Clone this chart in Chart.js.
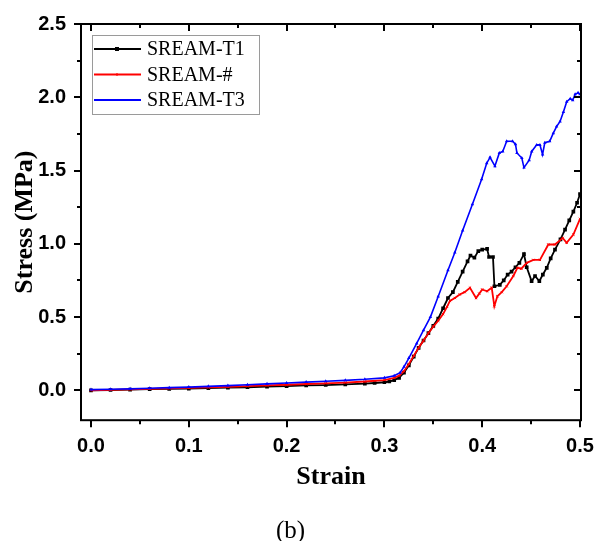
<!DOCTYPE html>
<html><head><meta charset="utf-8">
<script src="https://cdn.jsdelivr.net/npm/chart.js@4/dist/chart.umd.min.js"></script>
<style>html,body{margin:0;padding:0;background:#fff;}canvas{display:block;}</style>
</head><body>
<canvas id="c" width="598" height="541"></canvas>
<script>
const seriesNames = ['SREAM-T1', 'SREAM-#', 'SREAM-T3'];
const seriesColors = ['#000000', '#ff0000', '#0000ff'];

const t1Strain = [0, 0.02, 0.04, 0.06, 0.08, 0.10, 0.12, 0.14, 0.16, 0.18, 0.20, 0.22, 0.24, 0.26, 0.28, 0.29, 0.30, 0.305, 0.31, 0.315, 0.32, 0.325, 0.33, 0.335, 0.34, 0.345, 0.35, 0.355, 0.36, 0.365, 0.37, 0.375, 0.38, 0.385, 0.388, 0.392, 0.396, 0.40, 0.405, 0.407, 0.411, 0.4125, 0.418, 0.422, 0.426, 0.43, 0.434, 0.438, 0.4427, 0.4455, 0.4505, 0.454, 0.4584, 0.462, 0.466, 0.47, 0.4744, 0.48, 0.4847, 0.489, 0.4932, 0.497, 0.50];
const t1Stress = [0, 0.002, 0.005, 0.008, 0.010, 0.012, 0.015, 0.018, 0.021, 0.025, 0.029, 0.033, 0.036, 0.040, 0.045, 0.050, 0.055, 0.060, 0.070, 0.085, 0.12, 0.17, 0.23, 0.29, 0.34, 0.39, 0.44, 0.49, 0.56, 0.63, 0.67, 0.74, 0.81, 0.88, 0.92, 0.905, 0.95, 0.96, 0.965, 0.91, 0.91, 0.71, 0.72, 0.75, 0.79, 0.81, 0.84, 0.87, 0.93, 0.84, 0.745, 0.78, 0.745, 0.79, 0.836, 0.90, 0.96, 1.03, 1.097, 1.16, 1.22, 1.28, 1.34];

const hashStrain = [0, 0.02, 0.04, 0.06, 0.08, 0.10, 0.12, 0.14, 0.16, 0.18, 0.20, 0.22, 0.24, 0.26, 0.28, 0.30, 0.31, 0.315, 0.32, 0.325, 0.33, 0.335, 0.34, 0.345, 0.35, 0.355, 0.36, 0.364, 0.367, 0.372, 0.377, 0.382, 0.3875, 0.3937, 0.397, 0.40, 0.405, 0.4097, 0.4124, 0.4155, 0.42, 0.425, 0.4318, 0.436, 0.44, 0.4455, 0.4523, 0.459, 0.4676, 0.4744, 0.4823, 0.4863, 0.4932, 0.50];
const hashStress = [0, 0.003, 0.006, 0.010, 0.013, 0.016, 0.020, 0.024, 0.028, 0.033, 0.038, 0.043, 0.048, 0.053, 0.060, 0.070, 0.085, 0.10, 0.13, 0.18, 0.235, 0.29, 0.34, 0.39, 0.435, 0.475, 0.52, 0.57, 0.61, 0.63, 0.654, 0.67, 0.70, 0.63, 0.66, 0.688, 0.676, 0.70, 0.574, 0.642, 0.67, 0.71, 0.78, 0.836, 0.83, 0.87, 0.89, 0.89, 0.995, 0.995, 1.04, 1.006, 1.063, 1.17];

const t3Strain = [0, 0.02, 0.04, 0.06, 0.08, 0.10, 0.12, 0.14, 0.16, 0.18, 0.20, 0.22, 0.24, 0.26, 0.28, 0.30, 0.31, 0.316, 0.32, 0.325, 0.333, 0.34, 0.347, 0.355, 0.365, 0.372, 0.38, 0.39, 0.3994, 0.4046, 0.408, 0.413, 0.4175, 0.421, 0.425, 0.431, 0.434, 0.4355, 0.4405, 0.4427, 0.448, 0.4506, 0.4557, 0.459, 0.4617, 0.464, 0.469, 0.4727, 0.476, 0.4796, 0.483, 0.4864, 0.49, 0.4925, 0.495, 0.498, 0.50];
const t3Stress = [0.005, 0.007, 0.010, 0.014, 0.018, 0.022, 0.027, 0.032, 0.038, 0.044, 0.050, 0.056, 0.062, 0.068, 0.075, 0.085, 0.10, 0.12, 0.16, 0.22, 0.32, 0.41, 0.50, 0.64, 0.82, 0.94, 1.09, 1.27, 1.44, 1.55, 1.59, 1.53, 1.62, 1.63, 1.70, 1.70, 1.68, 1.62, 1.585, 1.52, 1.57, 1.63, 1.675, 1.675, 1.61, 1.69, 1.70, 1.755, 1.80, 1.835, 1.90, 1.97, 1.99, 1.98, 2.02, 2.03, 2.02];

const xMajorTicks = [0, 0.1, 0.2, 0.3, 0.4, 0.5];
const xMinorTicks = [0.05, 0.15, 0.25, 0.35, 0.45];
const yMajorTicks = [0, 0.5, 1.0, 1.5, 2.0, 2.5];
const yMinorTicks = [0.25, 0.75, 1.25, 1.75, 2.25];

const xTitle = 'Strain';
const yTitle = 'Stress (MPa)';
const caption = '(b)';

const toXY = (xs, ys) => xs.map((v, i) => ({x: v, y: ys[i]}));

const framePlugin = {
  id: 'frameTicks',
  afterDatasetsDraw(chart) {
    const {ctx, chartArea: a, scales: {x, y}} = chart;
    ctx.save();
    ctx.strokeStyle = '#000';
    ctx.lineWidth = 2;
    ctx.strokeRect(a.left, a.top, a.right - a.left, a.bottom - a.top);
    ctx.beginPath();
    const xt = (vals, len) => vals.forEach(v => {
      const p = Math.round(x.getPixelForValue(v));
      ctx.moveTo(p, a.bottom); ctx.lineTo(p, a.bottom + len);
      ctx.moveTo(p, a.top); ctx.lineTo(p, a.top + len);
    });
    const yt = (vals, len) => vals.forEach(v => {
      const p = Math.round(y.getPixelForValue(v));
      ctx.moveTo(a.left, p); ctx.lineTo(a.left - len, p);
      ctx.moveTo(a.right, p); ctx.lineTo(a.right - len, p);
    });
    xt(xMajorTicks, 7); xt(xMinorTicks, 4);
    yt(yMajorTicks, 7); yt(yMinorTicks, 4);
    ctx.stroke();
    ctx.restore();
  }
};

const legendPlugin = {
  id: 'boxLegend',
  afterDraw(chart) {
    const ctx = chart.ctx;
    const bx = 92, by = 35, bw = 167, bh = 79;
    ctx.save();
    ctx.strokeStyle = '#9a9a9a';
    ctx.lineWidth = 1;
    ctx.strokeRect(bx + 0.5, by + 0.5, bw, bh);
    chart.data.datasets.forEach((ds, i) => {
      const yy = 49 + i * 25.5;
      ctx.strokeStyle = ds.borderColor;
      ctx.lineWidth = 2;
      ctx.beginPath();
      ctx.moveTo(94, yy); ctx.lineTo(141, yy);
      ctx.stroke();
      ctx.fillStyle = ds.borderColor;
      if (i === 0) ctx.fillRect(115, yy - 2, 4, 4);
      else ctx.fillRect(116, yy - 1, 2, 2);
      ctx.fillStyle = '#000';
      ctx.font = '20px "Liberation Serif", "Times New Roman", serif';
      ctx.textBaseline = 'middle';
      ctx.textAlign = 'left';
      ctx.fillText(ds.label, 147, yy + 1);
    });
    ctx.restore();
  }
};

const tickFont = {family: '"Liberation Sans", Arial, sans-serif', size: 20, weight: 'bold'};
const titleFont = {family: '"Liberation Serif", "Times New Roman", serif', size: 26, weight: 'bold'};

new Chart(document.getElementById('c'), {
  type: 'scatter',
  data: {
    datasets: [
      {label: seriesNames[0], data: toXY(t1Strain, t1Stress), borderColor: seriesColors[0], backgroundColor: seriesColors[0],
       showLine: true, borderWidth: 1.8, pointStyle: 'rect', pointRadius: 2.6, pointBorderWidth: 0, order: 2},
      {label: seriesNames[1], data: toXY(hashStrain, hashStress), borderColor: seriesColors[1], backgroundColor: seriesColors[1],
       showLine: true, borderWidth: 1.8, pointStyle: 'crossRot', pointRadius: 1.6, pointBorderWidth: 1, order: 1},
      {label: seriesNames[2], data: toXY(t3Strain, t3Stress), borderColor: seriesColors[2], backgroundColor: seriesColors[2],
       showLine: true, borderWidth: 1.6, pointStyle: 'triangle', pointRadius: 2, pointBorderWidth: 0, order: 0}
    ]
  },
  options: {
    responsive: false,
    animation: false,
    devicePixelRatio: 1,
    layout: {padding: {left: 0, right: 17, top: 24, bottom: 0}},
    plugins: {
      legend: {display: false},
      tooltip: {enabled: false},
      title: {display: true, position: 'bottom', text: caption, color: '#000',
              font: {family: '"Liberation Serif", "Times New Roman", serif', size: 25, weight: 'normal', lineHeight: 0.8},
              padding: 0}
    },
    scales: {
      x: {
        type: 'linear', min: -0.0102, max: 0.501,
        afterBuildTicks: s => { s.ticks = xMajorTicks.map(v => ({value: v})); },
        afterFit: s => { s.height = 100.8; s.paddingLeft = 0; s.paddingRight = 0; },
        grid: {display: false, drawTicks: false},
        border: {display: false},
        ticks: {font: tickFont, color: '#000', padding: 14, maxRotation: 0, autoSkip: false,
                callback: v => Number(v).toFixed(1)},
        title: {display: true, text: xTitle, color: '#000', font: titleFont, padding: {top: 0, bottom: 28}}
      },
      y: {
        type: 'linear', min: -0.204, max: 2.5,
        afterBuildTicks: s => { s.ticks = yMajorTicks.map(v => ({value: v})); },
        afterFit: s => { s.width = 81; s.paddingTop = 0; s.paddingBottom = 0; },
        grid: {display: false, drawTicks: false},
        border: {display: false},
        ticks: {font: tickFont, color: '#000', padding: 15, autoSkip: false,
                callback: v => Number(v).toFixed(1)},
        title: {display: true, text: yTitle, color: '#000', font: titleFont, padding: {top: 10, bottom: 0}}
      }
    }
  },
  plugins: [framePlugin, legendPlugin]
});
</script>
</body></html>
